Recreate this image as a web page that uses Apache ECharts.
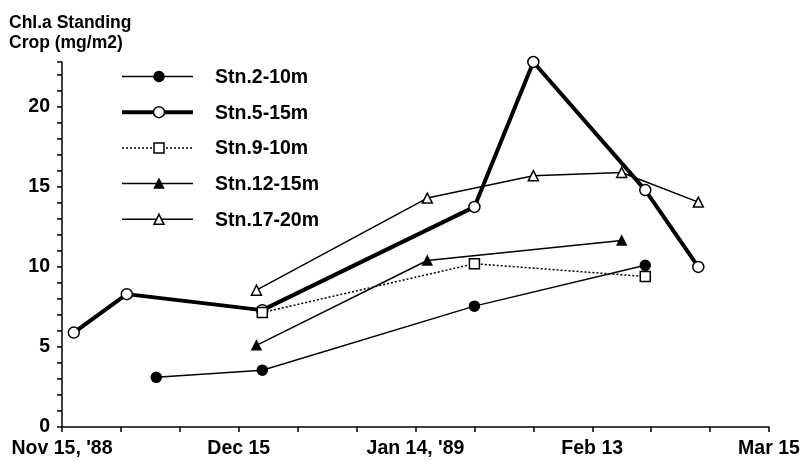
<!DOCTYPE html>
<html>
<head>
<meta charset="utf-8">
<script src="https://cdn.jsdelivr.net/npm/echarts@6/dist/echarts.min.js"></script>
<style>
  html, body { margin: 0; padding: 0; background: #fff; }
  #chart { width: 804px; height: 461px; }
</style>
</head>
<body>
<div id="chart"></div>
<script>
// Sampling dates are stored as calendar dates; the x axis counts days from Nov 15, 1988.
const startDate = '1988-11-15';
const xTickLabels = ["Nov 15, '88", 'Dec 15', "Jan 14, '89", 'Feb 13', 'Mar 15'];
const yTitleLines = ['Chl.a Standing', 'Crop (mg/m2)'];

const stn2Dates = ['1988-12-01', '1988-12-19', '1989-01-24', '1989-02-22'];
const stn2Values = [3.1, 3.55, 7.55, 10.1];

const stn5Dates = ['1988-11-17', '1988-11-26', '1988-12-19', '1989-01-24', '1989-02-03', '1989-02-22', '1989-03-03'];
const stn5Values = [5.9, 8.3, 7.3, 13.75, 22.8, 14.8, 10.0];

const stn9Dates = ['1988-12-19', '1989-01-24', '1989-02-22'];
const stn9Values = [7.15, 10.2, 9.4];

const stn12Dates = ['1988-12-18', '1989-01-16', '1989-02-18'];
const stn12Values = [5.1, 10.4, 11.65];

const stn17Dates = ['1988-12-18', '1989-01-16', '1989-02-03', '1989-02-18', '1989-03-03'];
const stn17Values = [8.55, 14.3, 15.7, 15.9, 14.05];

const seriesNames = ['Stn.2-10m', 'Stn.5-15m', 'Stn.9-10m', 'Stn.12-15m', 'Stn.17-20m'];

const INK = '#000';
const FONT = 'Liberation Sans';

function dayOffset(d) {
  return Math.round((Date.parse(d) - Date.parse(startDate)) / 86400000);
}
function pairs(dates, values) {
  return dates.map((d, i) => [dayOffset(d), values[i]]);
}

// Visual style of each station's line and marker
const styles = [
  { data: pairs(stn2Dates, stn2Values),   symbol: 'circle',   size: 10, fill: INK,    width: 1.5, dash: 'solid' },
  { data: pairs(stn5Dates, stn5Values),   symbol: 'circle',   size: 11, fill: '#fff', width: 4,   dash: 'solid' },
  { data: pairs(stn9Dates, stn9Values),   symbol: 'rect',     size: 10, fill: '#fff', width: 1.5, dash: [2, 2] },
  { data: pairs(stn12Dates, stn12Values), symbol: 'triangle', size: 9,  fill: INK,    width: 1.5, dash: 'solid' },
  { data: pairs(stn17Dates, stn17Values), symbol: 'triangle', size: 10, fill: '#fff', width: 1.5, dash: 'solid' }
];

const series = styles.map((s, i) => ({
  name: seriesNames[i],
  type: 'line',
  data: s.data,
  symbol: s.symbol,
  symbolSize: s.size,
  showAllSymbol: true,
  lineStyle: { color: INK, width: s.width, type: s.dash },
  itemStyle: { color: s.fill, borderColor: INK, borderWidth: 1.5 },
  emphasis: { disabled: true },
  z: 2 + i
}));

// Hand-built key in the upper-left of the plot
const keyLeft = 122, keyRight = 193, keyMark = 159, keyTextX = 215, keyTop = 76.5, keyStep = 35.7;
function keyMarker(s, cx, cy) {
  const st = { fill: s.fill, stroke: INK, lineWidth: 1.5 };
  const h = s.size / 2;
  if (s.symbol === 'circle') return { type: 'circle', shape: { cx, cy, r: h }, style: st, z: 10 };
  if (s.symbol === 'rect') return { type: 'rect', shape: { x: cx - h, y: cy - h, width: s.size, height: s.size }, style: st, z: 10 };
  return { type: 'polygon', shape: { points: [[cx, cy - h], [cx + h, cy + h], [cx - h, cy + h]] }, style: st, z: 10 };
}
const keyElements = [];
styles.forEach((s, i) => {
  const y = keyTop + i * keyStep;
  keyElements.push({
    type: 'line',
    shape: { x1: keyLeft, y1: y, x2: keyRight, y2: y },
    style: { stroke: INK, lineWidth: s.width, lineDash: Array.isArray(s.dash) ? s.dash : null },
    z: 9
  });
  keyElements.push(keyMarker(s, keyMark, y));
  keyElements.push({
    type: 'text',
    style: { text: seriesNames[i], x: keyTextX, y: y + 1, font: 'bold 19.5px "' + FONT + '"', fill: INK, verticalAlign: 'middle' },
    z: 10
  });
});

const titleElements = yTitleLines.map((t, i) => ({
  type: 'text',
  style: { text: t, x: 9, y: 23.5 + i * 19.5, font: 'bold 17.5px "' + FONT + '"', fill: INK, verticalAlign: 'middle' },
  z: 10
}));

const chart = echarts.init(document.getElementById('chart'), null, { renderer: 'canvas' });
chart.setOption({
  animation: false,
  backgroundColor: '#fff',
  grid: { left: 62, right: 35, top: 62, bottom: 34, containLabel: false },
  xAxis: {
    type: 'value',
    min: 0,
    max: 120,
    interval: 10,
    axisLine: { show: true, lineStyle: { color: INK, width: 1.5 } },
    axisTick: { show: true, length: 5, lineStyle: { color: INK, width: 1.5 } },
    splitLine: { show: false },
    axisLabel: {
      color: INK,
      fontFamily: FONT,
      fontWeight: 'bold',
      fontSize: 19.5,
      margin: 12,
      formatter: v => (v % 30 === 0 ? xTickLabels[v / 30] : '')
    }
  },
  yAxis: {
    type: 'value',
    min: 0,
    max: 'dataMax',
    interval: 1,
    axisLine: { show: true, lineStyle: { color: INK, width: 1.5 } },
    axisTick: { show: true, length: 5, lineStyle: { color: INK, width: 1.5 } },
    splitLine: { show: false },
    axisLabel: {
      color: INK,
      fontFamily: FONT,
      fontWeight: 'bold',
      fontSize: 19.5,
      margin: 12,
      formatter: v => (Math.abs(v % 5) < 1e-9 ? String(v) : '')
    }
  },
  graphic: titleElements.concat(keyElements),
  series: series
});
</script>
</body>
</html>
